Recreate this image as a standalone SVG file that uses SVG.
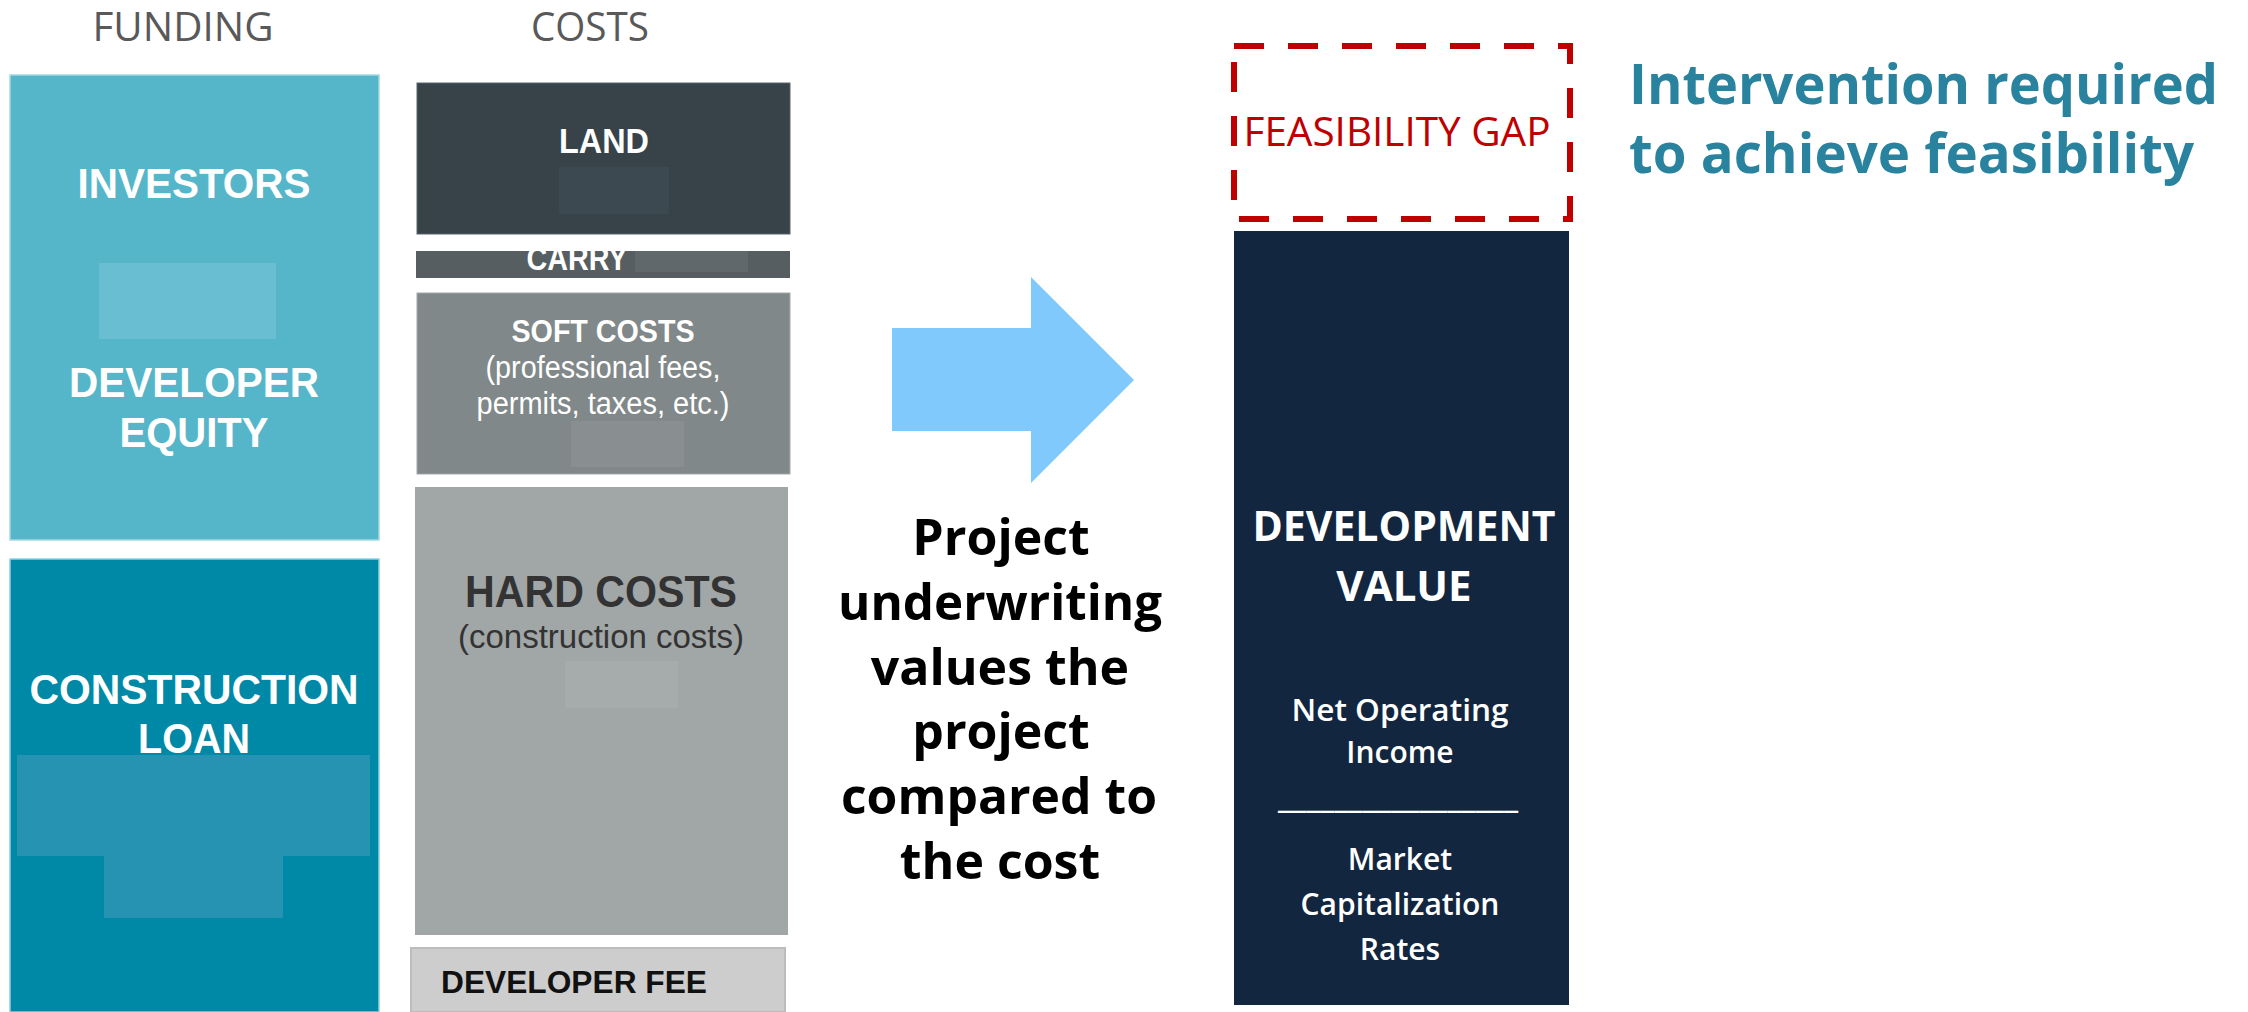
<svg xmlns="http://www.w3.org/2000/svg" width="2248" height="1012" viewBox="0 0 2248 1012">
<style>
.hdr{font-family:"Open Sans","Liberation Sans",sans-serif;font-size:41px;fill:#595959;text-anchor:middle}
.lbl{font-family:"Liberation Sans",Arial,sans-serif;font-weight:bold;fill:#fff;text-anchor:middle}
.sub{font-family:"Liberation Sans",Arial,sans-serif;fill:#fff;text-anchor:middle}
.big{font-family:"Open Sans","Liberation Sans",sans-serif;font-weight:bold;font-size:50px;fill:#000;text-anchor:middle}
.dv{font-family:"Open Sans","Liberation Sans",sans-serif;fill:#fff;text-anchor:middle}
.note{font-family:"Open Sans","Liberation Sans",sans-serif;font-weight:bold;font-size:56px;fill:#29839e}
</style>
<defs>
<clipPath id="carryClip"><rect x="416" y="251" width="374" height="27"/></clipPath>
</defs>
<rect width="2248" height="1012" fill="#fff"/>

<g id="headers">
<text class="hdr" x="183" y="41" textLength="181" lengthAdjust="spacingAndGlyphs">FUNDING</text>
<text class="hdr" x="590" y="41" textLength="118" lengthAdjust="spacingAndGlyphs">COSTS</text>
</g>

<g id="investors">
<rect x="10" y="75" width="369" height="465" fill="#55b6c9" stroke="#a3d9e4" stroke-width="1.5"/>
<rect x="99" y="263" width="177" height="76" fill="#69bfd1"/>
<text class="lbl" x="194" y="198" font-size="42" textLength="233" lengthAdjust="spacingAndGlyphs">INVESTORS</text>
<text class="lbl" x="194" y="397" font-size="42" textLength="250" lengthAdjust="spacingAndGlyphs">DEVELOPER</text>
<text class="lbl" x="194" y="447" font-size="42" textLength="149" lengthAdjust="spacingAndGlyphs">EQUITY</text>
</g>

<g id="construction-loan">
<rect x="10" y="559" width="369" height="453" fill="#0089a7" stroke="#8fd0de" stroke-width="1.5"/>
<path d="M17 755H370V856H283V918H104V856H17Z" fill="#2593b1"/>
<text class="lbl" x="194" y="704" font-size="43" textLength="329" lengthAdjust="spacingAndGlyphs">CONSTRUCTION</text>
<text class="lbl" x="194" y="753" font-size="43" textLength="112" lengthAdjust="spacingAndGlyphs">LOAN</text>
</g>

<g id="land">
<rect x="417" y="83" width="373" height="151" fill="#374349" stroke="#5a6469" stroke-width="1"/>
<rect x="559" y="167" width="110" height="47" fill="#3d4950"/>
<text class="lbl" x="604" y="153" font-size="35" textLength="90" lengthAdjust="spacingAndGlyphs">LAND</text>
</g>

<g id="carry">
<rect x="416" y="251" width="374" height="27" fill="#565e62"/>
<rect x="635" y="251" width="113" height="21" fill="#60686c"/>
<text class="lbl" x="577" y="270" font-size="33" textLength="101" lengthAdjust="spacingAndGlyphs" clip-path="url(#carryClip)">CARRY</text>
</g>

<g id="soft-costs">
<rect x="417" y="293" width="373" height="181" fill="#818889" stroke="#a3a8a9" stroke-width="1"/>
<rect x="571" y="421" width="113" height="46" fill="#898f91"/>
<text class="lbl" x="603" y="342" font-size="31" textLength="183" lengthAdjust="spacingAndGlyphs">SOFT COSTS</text>
<text class="sub" x="603" y="378" font-size="31" textLength="235" lengthAdjust="spacingAndGlyphs">(professional fees,</text>
<text class="sub" x="603" y="414" font-size="31" textLength="253" lengthAdjust="spacingAndGlyphs">permits, taxes, etc.)</text>
</g>

<g id="hard-costs">
<rect x="415" y="487" width="373" height="448" fill="#a1a6a6"/>
<rect x="565" y="661" width="113" height="47" fill="#a6abab"/>
<text class="lbl" x="601" y="607" font-size="44" style="fill:#333" textLength="272" lengthAdjust="spacingAndGlyphs">HARD COSTS</text>
<text class="sub" x="601" y="648" font-size="33" style="fill:#333" textLength="286" lengthAdjust="spacingAndGlyphs">(construction costs)</text>
</g>

<g id="developer-fee">
<rect x="411" y="948" width="374" height="64" fill="#cdcdcd" stroke="#bcbcbc" stroke-width="2"/>
<text class="lbl" x="441" y="993" font-size="32" style="fill:#111;text-anchor:start" textLength="266" lengthAdjust="spacingAndGlyphs">DEVELOPER FEE</text>
</g>

<g id="connectors">
<polygon points="892,328 1031,328 1031,277 1134,380 1031,483 1031,431 892,431" fill="#7fc9fd"/>
</g>

<g id="underwriting-text">
<text class="big" x="1001" y="555">Project</text>
<text class="big" x="1000" y="620" textLength="324" lengthAdjust="spacingAndGlyphs">underwriting</text>
<text class="big" x="1000" y="685">values the</text>
<text class="big" x="1001" y="749">project</text>
<text class="big" x="999" y="814" textLength="316" lengthAdjust="spacingAndGlyphs">compared to</text>
<text class="big" x="1000" y="879">the cost</text>
</g>

<g id="feasibility-gap">
<rect x="1234" y="46" width="336" height="173" fill="none" stroke="#c00000" stroke-width="6" stroke-dasharray="30 24"/>
<text x="1397" y="146" font-family="'Open Sans','Liberation Sans',sans-serif" font-size="40" fill="#c00000" text-anchor="middle" textLength="307" lengthAdjust="spacingAndGlyphs">FEASIBILITY GAP</text>
</g>

<g id="development-value">
<rect x="1234" y="231" width="335" height="774" fill="#132640"/>
<text class="dv" x="1404" y="541" font-size="42" font-weight="bold" textLength="303" lengthAdjust="spacingAndGlyphs">DEVELOPMENT</text>
<text class="dv" x="1404" y="601" font-size="42" font-weight="bold">VALUE</text>
<text class="dv" x="1400" y="721" font-size="30" font-weight="600" textLength="217" lengthAdjust="spacingAndGlyphs">Net Operating</text>
<text class="dv" x="1400" y="763" font-size="30" font-weight="600">Income</text>
<text class="dv" x="1398" y="808" font-size="32" font-weight="bold" textLength="240" lengthAdjust="spacingAndGlyphs">_________________</text>
<text class="dv" x="1400" y="870" font-size="30" font-weight="600">Market</text>
<text class="dv" x="1400" y="915" font-size="30" font-weight="600">Capitalization</text>
<text class="dv" x="1400" y="960" font-size="30" font-weight="600">Rates</text>
</g>

<g id="intervention">
<text class="note" x="1629" y="104" textLength="589" lengthAdjust="spacingAndGlyphs">Intervention required</text>
<text class="note" x="1629" y="173" textLength="565" lengthAdjust="spacingAndGlyphs">to achieve feasibility</text>
</g>
</svg>
